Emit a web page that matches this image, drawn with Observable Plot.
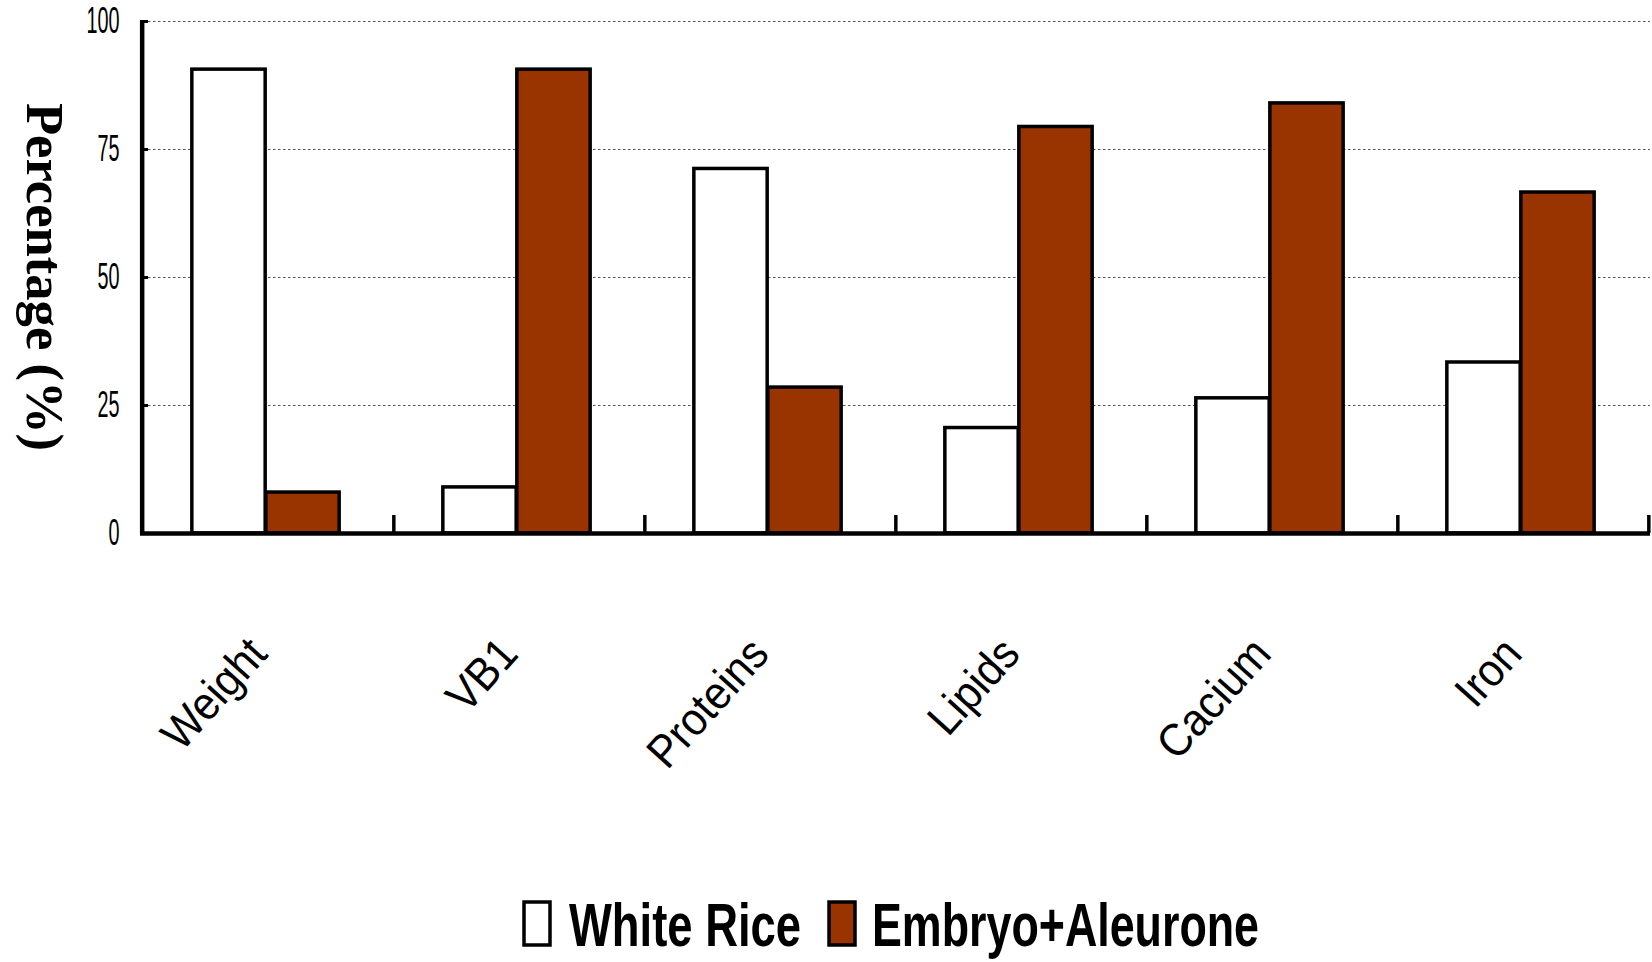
<!DOCTYPE html>
<html>
<head>
<meta charset="utf-8">
<script src="https://cdn.jsdelivr.net/npm/d3@7"></script>
<script src="https://cdn.jsdelivr.net/npm/@observablehq/plot@0.6"></script>
<style>
  body { margin: 0; background: #fff; }
  #chart svg, #legend svg { display: block; }
</style>
</head>
<body>
<div id="chart"></div>
<div id="legend"></div>
<script>
// Distribution of weight and nutrients between white rice and embryo + aleurone layer
const categories = ["Weight", "VB1", "Proteins", "Lipids", "Cacium", "Iron"];
const whiteRice = [90.6, 9, 71.2, 20.6, 26.4, 33.4];
const embryoAleurone = [8, 90.6, 28.5, 79.4, 84, 66.6];
const seriesNames = ["White Rice", "Embryo+Aleurone"];
const seriesColors = ["#ffffff", "#993300"];
const yTicks = [0, 25, 50, 75, 100];
const gridTicks = [25, 50, 75, 100];
const yLabel = "Percentage (%)";

const width = 1652, height = 890;
const marginLeft = 140, marginRight = 2, marginTop = 21, marginBottom = 357;
const bw = (width - marginLeft - marginRight) / categories.length;
const plotH = height - marginTop - marginBottom;
const outer = 0.206 * bw;   // gap between band edge and the bar pair
const half = bw / 2;

const rows = categories.flatMap((c, i) => [
  {category: c, series: seriesNames[0], value: whiteRice[i]},
  {category: c, series: seriesNames[1], value: embryoAleurone[i]}
]);

const sans = "'Liberation Sans', Arial, sans-serif";

const chart = Plot.plot({
  width, height, marginLeft, marginRight, marginTop, marginBottom,
  style: {fontFamily: sans, color: "#000", background: "#fff", overflow: "visible"},
  x: {domain: categories, padding: 0, axis: null},
  y: {domain: [0, 100], axis: null},
  marks: [
    // dotted horizontal gridlines
    Plot.ruleY(gridTicks, {stroke: "#555", strokeWidth: 1, strokeDasharray: "2.5,2.5", insetLeft: 8}),
    // bar pairs
    Plot.barY(rows.filter(d => d.series === seriesNames[0]), {
      x: "category", y: "value", fill: seriesColors[0], stroke: "#000", strokeWidth: 3.5,
      insetLeft: outer, insetRight: half, dx: -2
    }),
    Plot.barY(rows.filter(d => d.series === seriesNames[1]), {
      x: "category", y: "value", fill: seriesColors[1], stroke: "#000", strokeWidth: 3.5,
      insetLeft: half, insetRight: outer, dx: -2
    }),
    // y axis: inward ticks and condensed labels
    Plot.axisY({ticks: yTicks, tickSize: 8, dx: 8, strokeWidth: 3, fill: "none", label: null}),
    Plot.axisY({ticks: yTicks, tickSize: 0, tickPadding: 21, fontSize: 36, label: null}),
    // axis lines
    Plot.ruleX([categories[0]], {dx: -half, strokeWidth: 4.5}),
    Plot.ruleY([0], {strokeWidth: 4.5}),
    // category separators on the x axis
    Plot.tickX(categories, {x: d => d, dx: half, strokeWidth: 3.5, insetTop: plotH - 18}),
    // slanted category labels
    Plot.text(categories, {
      x: d => d, frameAnchor: "bottom", dx: 1, dy: 122, textAnchor: "end", lineAnchor: "bottom",
      fontSize: 46
    })
  ]
});

document.getElementById("chart").appendChild(chart);

// apply an extra transform around each text's own anchor
function transformAroundAnchor(node, extra) {
  const t = node.getAttribute("transform") || "";
  const x = +node.getAttribute("x") || 0, y = +node.getAttribute("y") || 0;
  node.setAttribute("transform", `${t} translate(${x},${y}) ${extra} translate(${-x},${-y})`);
}

const svg = d3.select(chart);
const tickStrings = yTicks.map(String);
svg.selectAll("text").each(function() {
  const s = this.textContent;
  if (tickStrings.includes(s)) transformAroundAnchor(this, "scale(0.55,1)");
  else if (categories.includes(s)) transformAroundAnchor(this, "rotate(-48) scale(0.92,1)");
});

// y axis title
svg.append("text")
  .attr("transform", `translate(27,${marginTop + plotH / 2}) rotate(90)`)
  .attr("text-anchor", "middle")
  .attr("font-family", "'Liberation Serif', 'Times New Roman', serif")
  .attr("font-weight", "bold")
  .attr("font-size", 52)
  .attr("textLength", 348)
  .attr("lengthAdjust", "spacingAndGlyphs")
  .text(yLabel);

// legend below the chart
const legend = d3.select("#legend").append("svg")
  .attr("width", width).attr("height", 962 - height);
const legendItems = [
  {name: seriesNames[0], color: seriesColors[0], box: 524, text: 569, len: 232},
  {name: seriesNames[1], color: seriesColors[1], box: 829, text: 872, len: 387}
];
for (const it of legendItems) {
  legend.append("rect")
    .attr("x", it.box).attr("y", 12).attr("width", 26).attr("height", 43)
    .attr("fill", it.color).attr("stroke", "#000").attr("stroke-width", 3.5);
  legend.append("text")
    .attr("x", it.text).attr("y", 56)
    .attr("font-family", sans).attr("font-weight", "bold").attr("font-size", 62)
    .attr("textLength", it.len).attr("lengthAdjust", "spacingAndGlyphs")
    .text(it.name);
}
</script>
</body>
</html>
